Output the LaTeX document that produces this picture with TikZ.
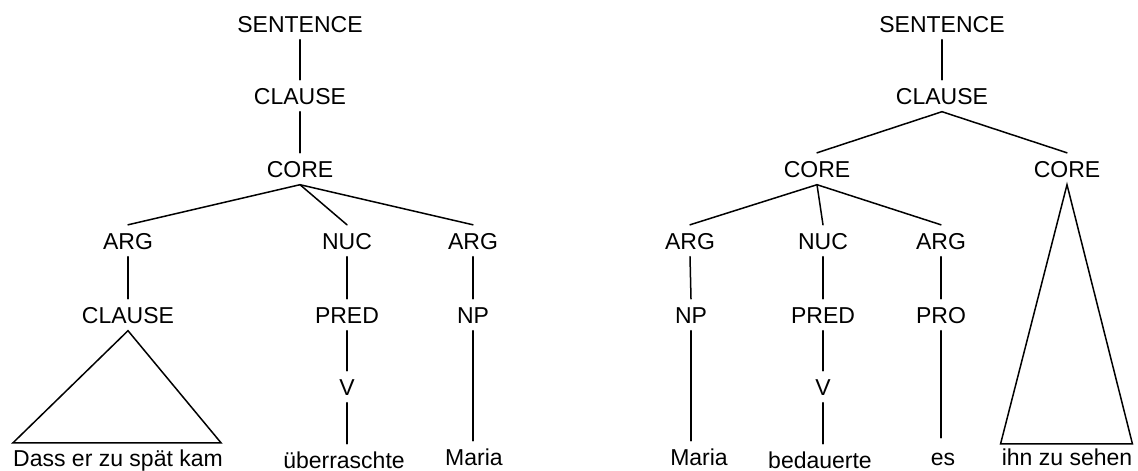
\documentclass[tikz,border=0pt]{standalone}
\usepackage{fontspec}
\setmainfont{Liberation Sans}
\usetikzlibrary{calc}
\begin{document}
\begin{tikzpicture}[x=1pt,y=-1pt,
  lbl/.style={anchor=base,inner xsep=0pt,inner ysep=7.5pt,
    text height=16.5pt,text depth=0pt,
    font=\fontsize{23}{27}\selectfont},
  edge/.style={line width=1.5pt,line cap=round},
  tri/.style={line width=1.5pt,line join=miter}]
\useasboundingbox (0,0) rectangle (1138,471);

% ---------- left tree ----------
\node[lbl] (s1)  at (300,32)   {SENTENCE};
\node[lbl] (c1)  at (300,104)  {CLAUSE};
\node[lbl] (co1) at (300,177)  {CORE};
\node[lbl] (a1)  at (128,249)  {ARG};
\node[lbl] (n1)  at (347,249)  {NUC};
\node[lbl] (a2)  at (473,249)  {ARG};
\node[lbl] (cl2) at (128,323)  {CLAUSE};
\node[lbl] (p1)  at (347,323)  {PRED};
\node[lbl] (np1) at (473,323)  {NP};
\node[lbl] (v1)  at (347,395)  {V};
\node[lbl,anchor=base west] (dass) at (13,466) {Dass er zu spät kam};
\node[lbl] (ueb)  at (344,468) {überraschte};
\node[lbl] (mar1) at (474,465) {Maria};

\draw[edge] (s1.south) -- (c1.north);
\draw[edge] (c1.south) -- (co1.north);
\draw[edge] (co1.south) -- (a1.north);
\draw[edge] (co1.south) -- (n1.north);
\draw[edge] (co1.south) -- (a2.north);
\draw[edge] (a1.south) -- (cl2.north);
\draw[edge] (n1.south) -- (p1.north);
\draw[edge] (a2.south) -- (np1.north);
\draw[edge] (p1.south) -- (v1.north);
\draw[edge] (v1.south) -- (v1.south |- ueb.north);
\draw[edge] (np1.south) -- (np1.south |- mar1.north);
\draw[tri] (cl2.south) -- ($(dass.north west)+(0,1)$) -- ($(dass.north west)+(208,1)$) -- cycle;

% ---------- right tree ----------
\node[lbl] (s2)  at (942,32)   {SENTENCE};
\node[lbl] (c2)  at (942,104)  {CLAUSE};
\node[lbl] (co2) at (817,177)  {CORE};
\node[lbl] (co3) at (1067,177) {CORE};
\node[lbl] (a3)  at (690,249)  {ARG};
\node[lbl] (n2)  at (823,249)  {NUC};
\node[lbl] (a4)  at (941,249)  {ARG};
\node[lbl] (np2) at (691,323)  {NP};
\node[lbl] (p2)  at (823,323)  {PRED};
\node[lbl] (pro) at (941,323)  {PRO};
\node[lbl] (v2)  at (823,395)  {V};
\node[lbl] (mar2) at (699,465) {Maria};
\node[lbl] (bed)  at (820,468) {bedauerte};
\node[lbl] (es)   at (943,465) {es};
\node[lbl] (ihn)  at (1067,465) {ihn zu sehen};

\draw[edge] (s2.south) -- (c2.north);
\draw[edge] (c2.south) -- (co2.north);
\draw[edge] (c2.south) -- (co3.north);
\draw[edge] (co2.south) -- (a3.north);
\draw[edge] (co2.south) -- (n2.north);
\draw[edge] (co2.south) -- (a4.north);
\draw[edge] (a3.south) -- (np2.north);
\draw[edge] (n2.south) -- (p2.north);
\draw[edge] (a4.south) -- (pro.north);
\draw[edge] (p2.south) -- (v2.north);
\draw[edge] (np2.south) -- (np2.south |- mar2.north);
\draw[edge] (v2.south) -- (v2.south |- bed.north);
\draw[edge] (pro.south) -- ($(pro.south |- es.north)+(0,-3)$);
\draw[tri] (co3.south) -- ($(ihn.north west)+(-1,3)$) -- ($(ihn.north east)+(0,3)$) -- cycle;
\end{tikzpicture}
\end{document}
